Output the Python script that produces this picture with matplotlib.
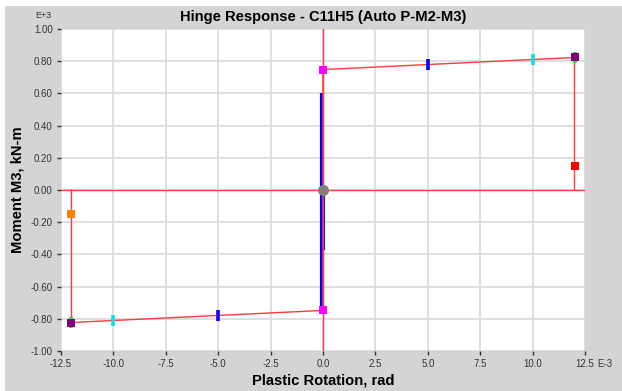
import matplotlib
matplotlib.use("Agg")
import matplotlib.pyplot as plt
from matplotlib.patches import Rectangle

plt.rcParams["font.family"] = ["Liberation Sans", "DejaVu Sans"]

# backbone (plastic rotation E-3 rad, moment E+3 kN-m)
backbone_x = [-12.0, -12.0, 0.0, 0.0, 12.0, 12.0]
backbone_y = [0.0, -0.823, -0.748, 0.748, 0.823, 0.0]

# hinge response trace
resp_x = [-0.05, -0.05]
resp_y = [-0.748, 0.60]
resp2_x = [0.06, 0.06]
resp2_y = [0.0, -0.375]

# point markers
pts_sq = [
    (0.0, 0.748, "#ff00ff"),
    (0.0, -0.748, "#ff00ff"),
    (12.0, 0.148, "#ff0000"),
    (-12.0, -0.148, "#ff8000"),
]
pts_bar = [
    (5.0, 0.778, "#0000ff"),
    (-5.0, -0.778, "#0000ff"),
    (10.0, 0.808, "#00e5e5"),
    (-10.0, -0.808, "#00e5e5"),
    (12.0, 0.823, "#22dd22"),
    (-12.0, -0.823, "#22dd22"),
]
pts_end = [(12.0, 0.823), (-12.0, -0.823)]

xticks = [-12.5, -10.0, -7.5, -5.0, -2.5, 0.0, 2.5, 5.0, 7.5, 10.0, 12.5]
yticks = [-1.0, -0.8, -0.6, -0.4, -0.2, 0.0, 0.2, 0.4, 0.6, 0.8, 1.0]

fig = plt.figure(figsize=(6.22, 3.91), dpi=100)
fig.patch.set_facecolor("white")
fig.patches.append(Rectangle((5 / 622, 0), 1, 1 - 6 / 391, transform=fig.transFigure,
                             facecolor="#d4d4d4", edgecolor="none", zorder=-10))

ax = fig.add_axes([61 / 622, 40 / 391, 524 / 622, 322 / 391])
ax.set_facecolor("white")
for s in ax.spines.values():
    s.set_visible(False)

ax.set_xlim(-12.5, 12.5)
ax.set_ylim(-1.0, 1.0)
ax.set_xticks(xticks)
ax.set_yticks(yticks)
ax.set_xticklabels([f"{v:.1f}" for v in xticks])
ax.set_yticklabels([f"{v:.2f}" for v in yticks])
ax.tick_params(length=3, width=1, color="#333333", labelsize=7, labelcolor="#333333", pad=3)
ax.grid(True, color="#dcdcdc", linewidth=1.3)
ax.set_axisbelow(True)

ax.annotate("E-3", xy=(12.5, -1.0), xycoords="data", xytext=(8.5, -6),
            textcoords="offset points", fontsize=7, color="#333333", va="top", ha="left")
fig.text(43 / 622, 1 - 15 / 391, "E+3", fontsize=6.5, color="#333333", ha="center", va="center")

ax.plot(resp_x, resp_y, color="#0000ff", linewidth=3, zorder=3, solid_capstyle="butt")
ax.plot(resp2_x, resp2_y, color="#0000ff", linewidth=1.5, zorder=3, solid_capstyle="butt")

ax.axhline(0.0, color="#ff3b3b", linewidth=1, zorder=4)
ax.axvline(0.0, color="#ff3b3b", linewidth=1, zorder=4)
ax.plot(backbone_x, backbone_y, color="#ff3b3b", linewidth=1, zorder=4)

for x, y, c in pts_bar:
    ax.plot([x, x], [y - 0.034, y + 0.034], color=c, linewidth=2.6, zorder=5,
            solid_capstyle="butt")
for x, y in pts_end:
    ax.plot([x], [y], marker="s", linestyle="none", color="#800080", markersize=5.5,
            markeredgewidth=0, zorder=6)
for x, y, c in pts_sq:
    ax.plot([x], [y], marker="s", linestyle="none", color=c, markersize=5.5,
            markeredgewidth=0, zorder=6)
ax.plot([0.0], [0.0], marker="o", linestyle="none", color="#808080", markersize=8,
        markeredgewidth=0, zorder=7)

ax.set_title("Hinge Response - C11H5 (Auto P-M2-M3)", fontsize=10.6, fontweight="bold", pad=6)
ax.set_xlabel("Plastic Rotation, rad", fontsize=10.6, fontweight="bold", labelpad=3)
ax.set_ylabel("Moment M3, kN-m", fontsize=10.6, fontweight="bold", labelpad=4)

fig.savefig("out.png", dpi=100)
